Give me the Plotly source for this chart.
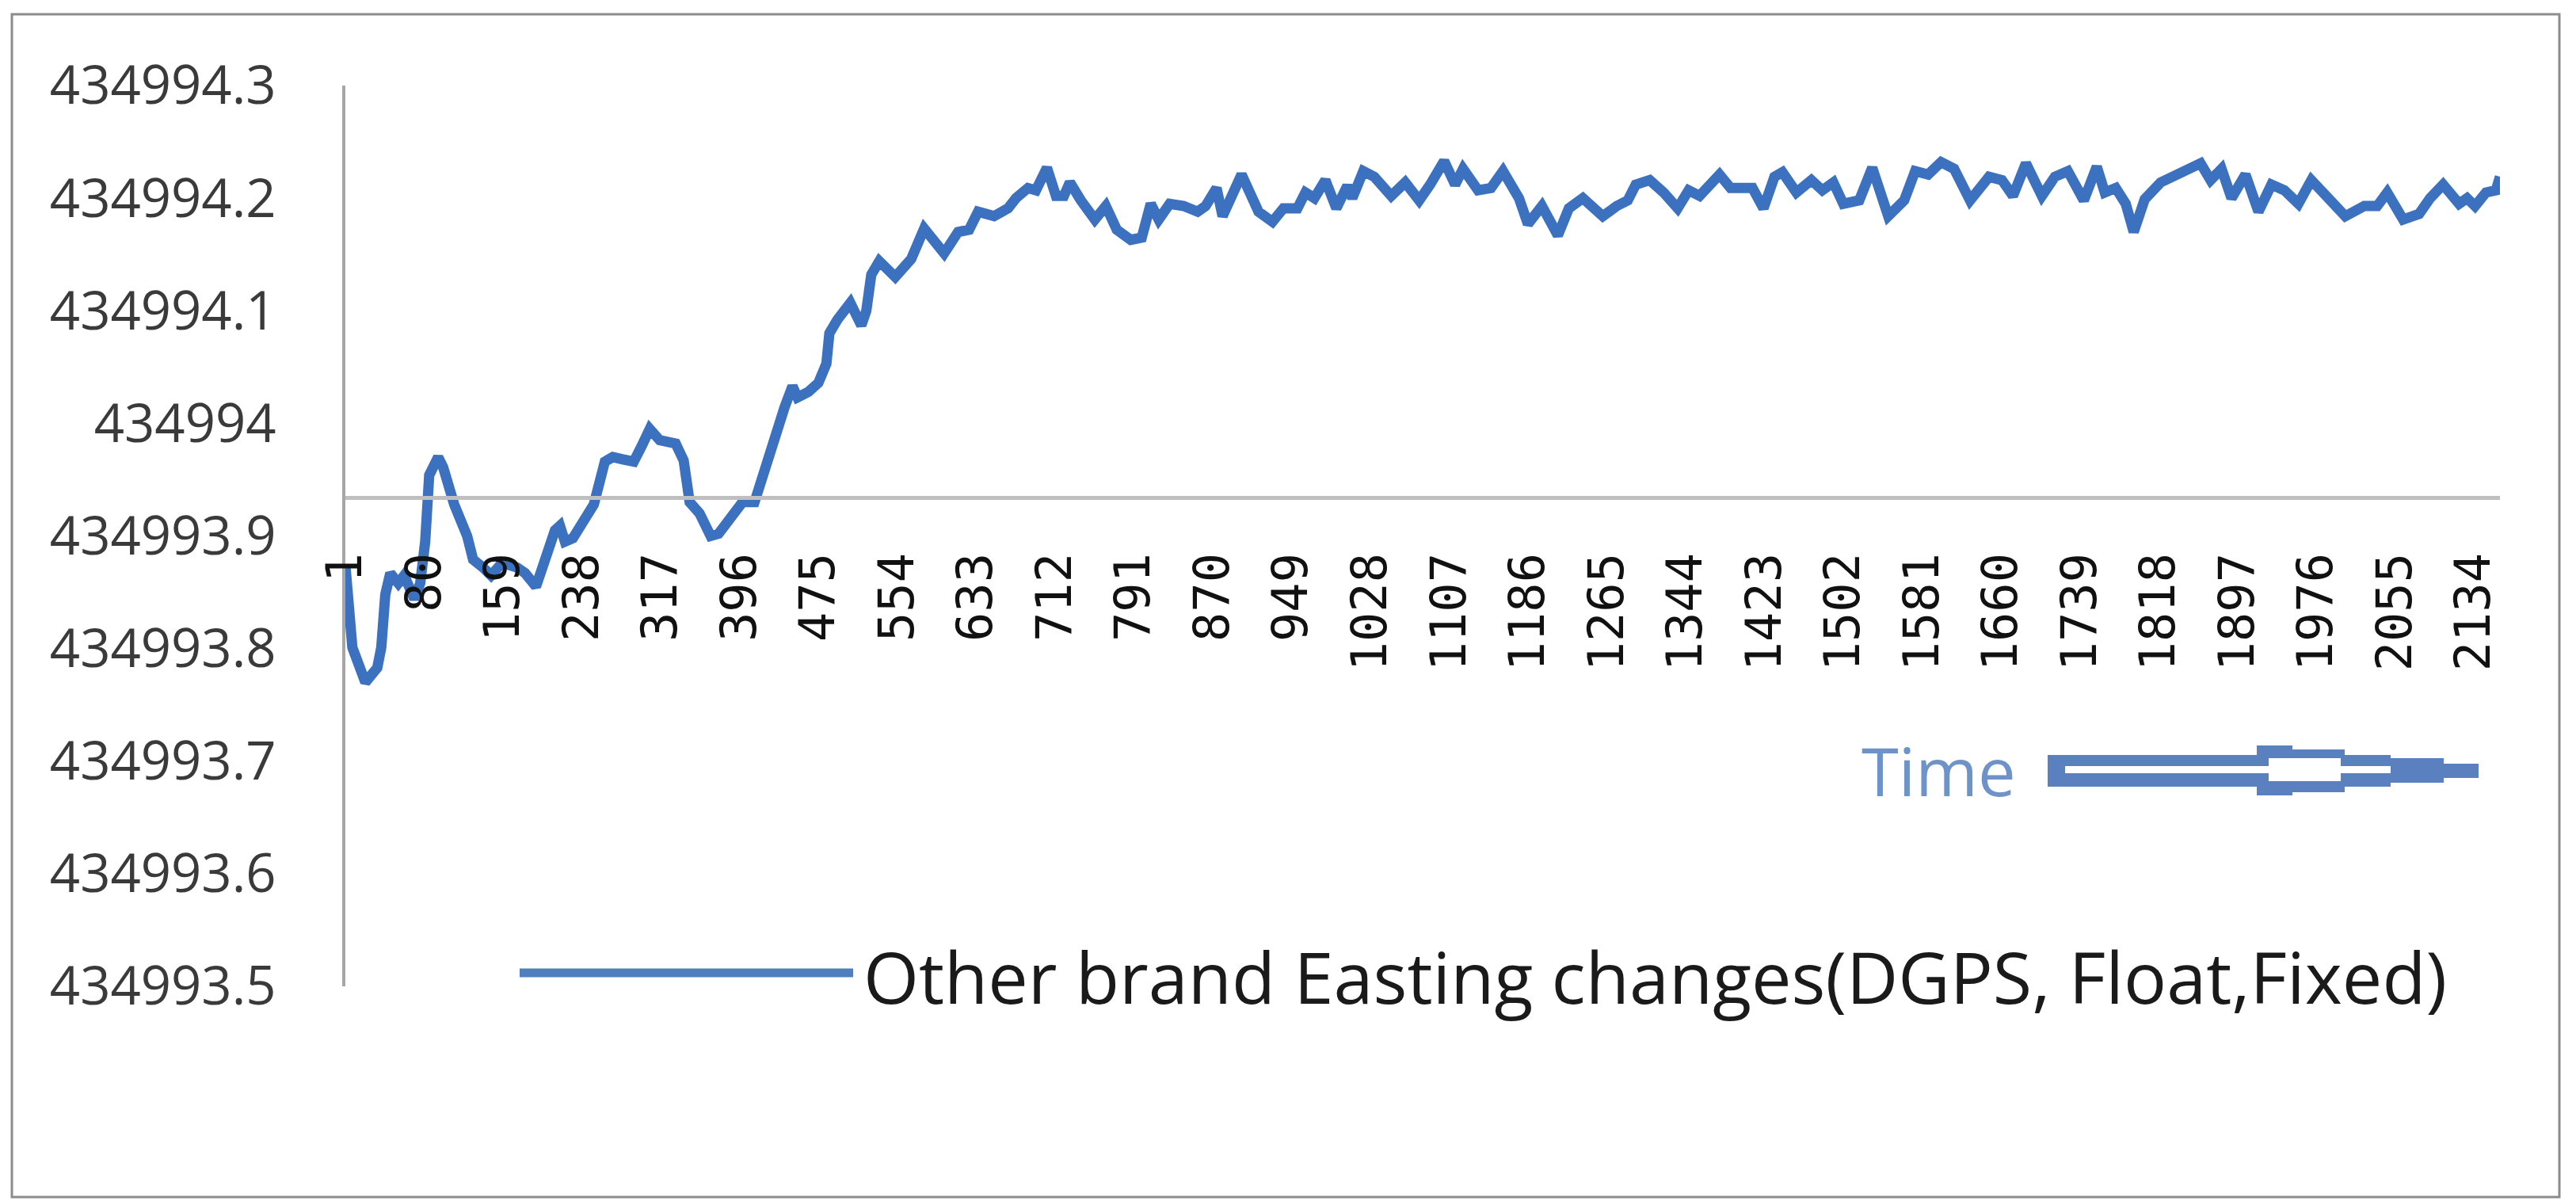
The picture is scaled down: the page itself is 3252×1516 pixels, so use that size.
import plotly.graph_objects as go

# ---------------- data ----------------
sample_index = [
    1, 8, 21, 33, 37, 41, 46, 54, 60, 70, 76, 81, 85, 94, 99, 110, 123, 129, 139, 147,
    158, 173, 181, 192, 200, 211, 216, 221, 229, 240, 250, 261, 269, 279, 290, 298, 306,
    316, 332, 340, 346, 356, 367, 375, 385, 399, 411, 417, 423, 433, 441, 449, 454, 465,
    475, 483, 486, 494, 507, 518, 523, 528, 536, 552, 568, 581, 601, 615, 626, 635, 651,
    665, 673, 685, 693, 704, 713, 721, 727, 738, 752, 763, 774, 788, 799, 808, 816, 827,
    841, 855, 863, 874, 880, 899, 916, 930, 941, 955, 963, 972, 983, 994, 1005, 1010,
    1021, 1032, 1049, 1063, 1077, 1088, 1102, 1113, 1121, 1136, 1149, 1161, 1177, 1186,
    1200, 1216, 1227, 1241, 1261, 1275, 1286, 1294, 1308, 1322, 1336, 1347, 1358, 1378,
    1389, 1411, 1422, 1433, 1441, 1455, 1470, 1481, 1492, 1502, 1518, 1531, 1547, 1563,
    1574, 1587, 1600, 1613, 1629, 1648, 1661, 1672, 1685, 1701, 1714, 1727, 1743, 1756,
    1764, 1775, 1785, 1793, 1804, 1820, 1838, 1860, 1870, 1881, 1891, 1905, 1918, 1931,
    1944, 1958, 1971, 1989, 2005, 2024, 2037, 2047, 2063, 2079, 2090, 2103, 2119, 2127,
    2135, 2146, 2156, 2160,
]
easting = [
    434993.874, 434993.801, 434993.770, 434993.783, 434993.801, 434993.848, 434993.867,
    434993.858, 434993.865, 434993.844, 434993.858, 434993.895, 434993.954, 434993.970,
    434993.961, 434993.928, 434993.900, 434993.879, 434993.872, 434993.865, 434993.876,
    434993.872, 434993.867, 434993.855, 434993.876, 434993.905, 434993.909, 434993.895,
    434993.898, 434993.914, 434993.928, 434993.966, 434993.970, 434993.968, 434993.966,
    434993.980, 434993.995, 434993.985, 434993.982, 434993.967, 434993.930, 434993.920,
    434993.900, 434993.902, 434993.915, 434993.930, 434993.930, 434993.947, 434993.969,
    434993.994, 434994.014, 434994.033, 434994.023, 434994.028, 434994.036, 434994.053,
    434994.080, 434994.092, 434994.107, 434994.087, 434994.100, 434994.132, 434994.144,
    434994.130, 434994.146, 434994.173, 434994.151, 434994.170, 434994.172, 434994.188,
    434994.184, 434994.191, 434994.200, 434994.209, 434994.207, 434994.227, 434994.202,
    434994.202, 434994.214, 434994.198, 434994.181, 434994.193, 434994.172, 434994.163,
    434994.165, 434994.195, 434994.181, 434994.195, 434994.193, 434994.188, 434994.193,
    434994.209, 434994.184, 434994.221, 434994.188, 434994.179, 434994.191, 434994.191,
    434994.205, 434994.200, 434994.216, 434994.191, 434994.211, 434994.200, 434994.224,
    434994.219, 434994.202, 434994.214, 434994.198, 434994.212, 434994.233, 434994.212,
    434994.226, 434994.207, 434994.209, 434994.224, 434994.200, 434994.177, 434994.193,
    434994.167, 434994.191, 434994.200, 434994.184, 434994.193, 434994.198, 434994.212,
    434994.216, 434994.205, 434994.191, 434994.207, 434994.202, 434994.221, 434994.209,
    434994.209, 434994.191, 434994.219, 434994.223, 434994.205, 434994.216, 434994.207,
    434994.214, 434994.195, 434994.198, 434994.227, 434994.184, 434994.198, 434994.224,
    434994.221, 434994.232, 434994.226, 434994.198, 434994.219, 434994.216, 434994.202,
    434994.231, 434994.202, 434994.219, 434994.224, 434994.198, 434994.228, 434994.205,
    434994.209, 434994.195, 434994.170, 434994.199, 434994.214, 434994.221, 434994.231,
    434994.216, 434994.226, 434994.200, 434994.221, 434994.188, 434994.212, 434994.207,
    434994.195, 434994.216, 434994.200, 434994.184, 434994.193, 434994.193, 434994.205,
    434994.181, 434994.186, 434994.200, 434994.212, 434994.195, 434994.200, 434994.193,
    434994.205, 434994.207, 434994.219,
]
x_tick_values = [1, 80, 159, 238, 317, 396, 475, 554, 633, 712, 791, 870, 949, 1028,
                 1107, 1186, 1265, 1344, 1423, 1502, 1581, 1660, 1739, 1818, 1897, 1976,
                 2055, 2134]
x_tick_labels = [str(v) for v in x_tick_values]
y_tick_values = [434993.5, 434993.6, 434993.7, 434993.8, 434993.9, 434994.0,
                 434994.1, 434994.2, 434994.3]
y_tick_labels = ["434993.5", "434993.6", "434993.7", "434993.8", "434993.9", "434994",
                 "434994.1", "434994.2", "434994.3"]
y_min, y_max = 434993.5, 434994.3
x_axis_crosses = 434993.934
x_last = 2160
series_name = "Other brand Easting changes(DGPS, Float,Fixed)"

# ---------------- layout geometry (page pixels; page body has 8px margin) ----------------
OFF = 8
W, H = 3252 - OFF, 1516 - OFF
PLOT_L, PLOT_R, PLOT_T, PLOT_B = 436, 3156, 108, 1245   # page coordinates
L = PLOT_L - OFF
T = PLOT_T - OFF
R = W - (PLOT_R - OFF)
B = H - (PLOT_B - OFF)
PW, PH = PLOT_R - PLOT_L, PLOT_B - PLOT_T


def px(x):
    return (x - PLOT_L) / PW


def py(y):
    return (PLOT_B - y) / PH


LINE_BLUE = "#3c71c0"
ARROW_BLUE = "#5b80c0"

fig = go.Figure()
fig.add_trace(go.Scatter(
    x=sample_index, y=easting, mode="lines", name=series_name,
    line=dict(color=LINE_BLUE, width=13), cliponaxis=False, showlegend=False,
))

shapes = []
# chart-area border
shapes.append(dict(type="rect", xref="paper", yref="paper",
                   x0=px(15), x1=px(3231), y0=py(1511), y1=py(18),
                   line=dict(color="#8c8c8c", width=3), fillcolor="rgba(0,0,0,0)",
                   layer="below"))
# legend sample line
shapes.append(dict(type="line", xref="paper", yref="paper",
                   x0=px(656), x1=px(1077), y0=py(1228), y1=py(1228),
                   line=dict(color="#4f7fbe", width=11)))


def rect(x0, x1, y0, y1, color):
    shapes.append(dict(type="rect", xref="paper", yref="paper",
                       x0=px(x0), x1=px(x1), y0=py(y1), y1=py(y0),
                       line=dict(width=0), fillcolor=color))


# "Time" arrow (double-line block arrow)
rect(2585, 2849, 953, 993, ARROW_BLUE)
rect(2849, 2894, 941, 1004, ARROW_BLUE)
rect(2894, 2960, 946, 1000, ARROW_BLUE)
rect(2960, 3018, 953, 993, ARROW_BLUE)
rect(3018, 3085, 957, 988, ARROW_BLUE)
rect(3085, 3129, 964, 982, ARROW_BLUE)
rect(2607, 2864, 967, 976, "white")
rect(2864, 2955, 957, 986, "white")
rect(2955, 3018, 967, 976, "white")

annotations = [
    dict(xref="paper", yref="paper", x=px(1088), y=py(1232), xanchor="left",
         yanchor="middle", showarrow=False, text=series_name,
         font=dict(family="Open Sans", size=90, color="#1a1a1a")),
    dict(xref="paper", yref="paper", x=px(2348), y=py(972), xanchor="left",
         yanchor="middle", showarrow=False, text="Time",
         font=dict(family="Open Sans", size=85, color="#6d93c9")),
]

fig.update_layout(
    width=W, height=H, autosize=False,
    margin=dict(l=L, r=R, t=T, b=B, pad=0),
    paper_bgcolor="white", plot_bgcolor="white",
    showlegend=False,
    shapes=shapes, annotations=annotations,
    xaxis=dict(
        type="linear", range=[1, x_last], anchor="free",
        position=(x_axis_crosses - y_min) / (y_max - y_min),
        showline=True, linecolor="#bfbfbf", linewidth=5,
        showgrid=False, zeroline=False,
        tickmode="array", tickvals=x_tick_values, ticktext=x_tick_labels,
        tickangle=-90, ticks="outside", ticklen=42, tickcolor="rgba(0,0,0,0)",
        tickfont=dict(family="DejaVu Sans Mono", size=62, color="#111111"),
    ),
    yaxis=dict(
        range=[y_min, y_max], showline=True, linecolor="#a6a6a6", linewidth=4,
        showgrid=False, zeroline=False,
        tickmode="array", tickvals=y_tick_values, ticktext=y_tick_labels,
        ticks="outside", ticklen=70, tickcolor="rgba(0,0,0,0)",
        tickfont=dict(family="Open Sans", size=67, color="#3a3a3a"),
    ),
)

fig.write_html("out.html")
